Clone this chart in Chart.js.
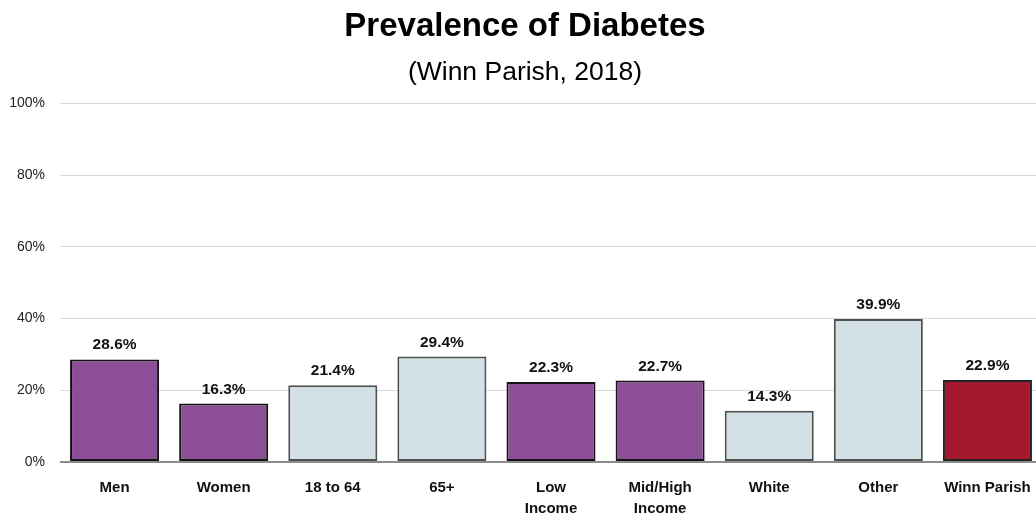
<!DOCTYPE html>
<html>
<head>
<meta charset="utf-8">
<script src="https://cdn.jsdelivr.net/npm/chart.js@4/dist/chart.umd.min.js"></script>
<style>
  html, body { margin: 0; padding: 0; background: #fff; overflow: hidden; }
  #wrap { width: 1042px; height: 513px; position: relative; }
</style>
</head>
<body>
<div id="wrap"><canvas id="chart"></canvas></div>
<script>
// Prevalence of Diabetes - Winn Parish 2018

const categories = ['Men', 'Women', '18 to 64', '65+', ['Low', 'Income'], ['Mid/High', 'Income'], 'White', 'Other', 'Winn Parish'];
const values = [28.6, 16.3, 21.4, 29.4, 22.3, 22.7, 14.3, 39.9, 22.9];
const groups = ['sex', 'sex', 'age', 'age', 'income', 'income', 'race', 'race', 'total'];
const yTicks = [0, 20, 40, 60, 80, 100];

const FILL = { sex: '#8c4e97', age: '#d3e1e6', income: '#8c4e97', race: '#d3e1e6', total: '#a3192f' };
const EDGE = { sex: '#141414', age: '#505050', income: '#141414', race: '#505050', total: '#222222' };

const FONT = "'Liberation Sans', Arial, sans-serif";
Chart.defaults.font.family = FONT;
Chart.defaults.color = '#222';

// value labels above each bar
const valueLabels = {
    id: 'valueLabels',
    afterDatasetsDraw(chart) {
        const ctx = chart.ctx;
        const meta = chart.getDatasetMeta(0);
        ctx.save();
        ctx.font = 'bold 15.5px ' + FONT;
        ctx.fillStyle = '#111';
        ctx.textAlign = 'center';
        ctx.textBaseline = 'alphabetic';
        meta.data.forEach((bar, i) => {
            ctx.fillText(values[i].toFixed(1) + '%', bar.x, bar.y - 10);
        });
        ctx.restore();
    }
};

new Chart(document.getElementById('chart'), {
    type: 'bar',
    data: {
        labels: categories,
        datasets: [{
            data: values,
            backgroundColor: groups.map(g => FILL[g]),
            borderColor: groups.map(g => EDGE[g]),
            borderWidth: 2,
            borderSkipped: false,
            categoryPercentage: 1,
            barPercentage: 0.816
        }]
    },
    options: {
        responsive: true, maintainAspectRatio: false,
        animation: false,
        layout: { padding: { left: 8, right: 0, top: 0, bottom: 0 } },
        plugins: {
            legend: { display: false },
            tooltip: { enabled: false },
            title: {
                display: true,
                text: 'Prevalence of Diabetes',
                color: '#000',
                font: { size: 33, weight: 'bold', lineHeight: 1.2 },
                padding: { top: 7, bottom: 0 }
            },
            subtitle: {
                display: true,
                text: '(Winn Parish, 2018)',
                color: '#000',
                font: { size: 26.5, weight: 'normal', lineHeight: 1.2 },
                padding: { top: 10, bottom: 15 }
            }
        },
        scales: {
            x: {
                grid: { display: false },
                border: { display: false },
                ticks: {
                    color: '#111',
                    padding: 7,
                    maxRotation: 0,
                    autoSkip: false,
                    font: { size: 15, weight: 'bold', lineHeight: 1.4 }
                },
                afterFit(scale) { scale.height = 51; }
            },
            y: {
                min: 0, max: 100,
                afterBuildTicks(scale) { scale.ticks = yTicks.map(v => ({ value: v })); },
                border: { display: false },
                grid: {
                    drawTicks: false,
                    color: c => c.tick.value === 0 ? '#8c8c8c' : '#d9d9d9',
                    lineWidth: c => c.tick.value === 0 ? 2 : 1
                },
                ticks: {
                    color: '#222',
                    padding: 15,
                    font: { size: 14 },
                    callback: v => v + '%'
                },
                afterFit(scale) { scale.width = 52; }
            }
        }
    },
    plugins: [valueLabels]
});
</script>
</body>
</html>
